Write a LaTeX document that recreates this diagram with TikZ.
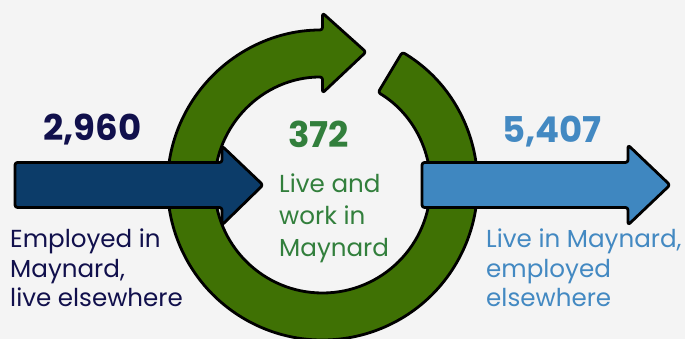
\documentclass[tikz,border=0pt]{standalone}
\usepackage{fontspec}
\setmainfont{Poppins}
\usetikzlibrary{calc}
\definecolor{bgc}{HTML}{F4F4F4}
\definecolor{ringgreen}{HTML}{3F7104}
\definecolor{darkarrow}{HTML}{0C3C69}
\definecolor{lightarrow}{HTML}{3F87C0}
\definecolor{navytext}{HTML}{11104C}
\definecolor{greentext}{HTML}{327F3C}
\definecolor{bluetext}{HTML}{4389C2}
\begin{document}
\begin{tikzpicture}[x=1pt,y=1pt,
  shapeout/.style={draw=black,line width=2.8pt,line join=round,rounded corners=2.5pt},
  numtext/.style={font=\fontsize{35.5}{40}\selectfont\bfseries,inner sep=0pt,anchor=base west},
  labeltext/.style={font=\fontsize{24.6}{29.5}\selectfont,inner sep=0pt,align=left,anchor=base west}]
\fill[bgc] (0,0) rectangle (685,339);
\useasboundingbox (0,0) rectangle (685,339);
\coordinate (c) at (322.5,154);
% ring with arrowhead
\path[shapeout,fill=ringgreen]
  ($(c)+(59:155)$) arc[start angle=59,end angle=-270,radius=155]
  -- (322.5,326) -- (366,287) -- (322.5,246) -- (322.5,262)
  arc[start angle=90,end angle=419,radius=108] -- cycle;
% incoming arrow
\path[shapeout,fill=darkarrow]
  (15,176.5) -- (222,176.5) -- (222,193) -- (263,154) -- (222,114) -- (222,131.5) -- (15,131.5) -- cycle;
% outgoing arrow
\path[shapeout,fill=lightarrow]
  (422,176.5) -- (628,176.5) -- (628,194) -- (670,154) -- (628,114) -- (628,131.5) -- (422,131.5) -- cycle;
% texts
\node[numtext,text=navytext] (nin) at (43,198) {2,960};
\node[numtext,text=greentext] (nboth) at (288,191) {372};
\node[numtext,text=bluetext] (nout) at (502,196) {5,407};
\node[labeltext,text=navytext] (lin) at (10,32) {Employed in\\Maynard,\\live elsewhere};
\node[labeltext,text=greentext,font=\fontsize{24.6}{32}\selectfont] (lboth) at (279,82) {Live and\\work in\\Maynard};
\node[labeltext,text=bluetext] (lout) at (486,32) {Live in Maynard,\\employed\\elsewhere};
\end{tikzpicture}
\end{document}
